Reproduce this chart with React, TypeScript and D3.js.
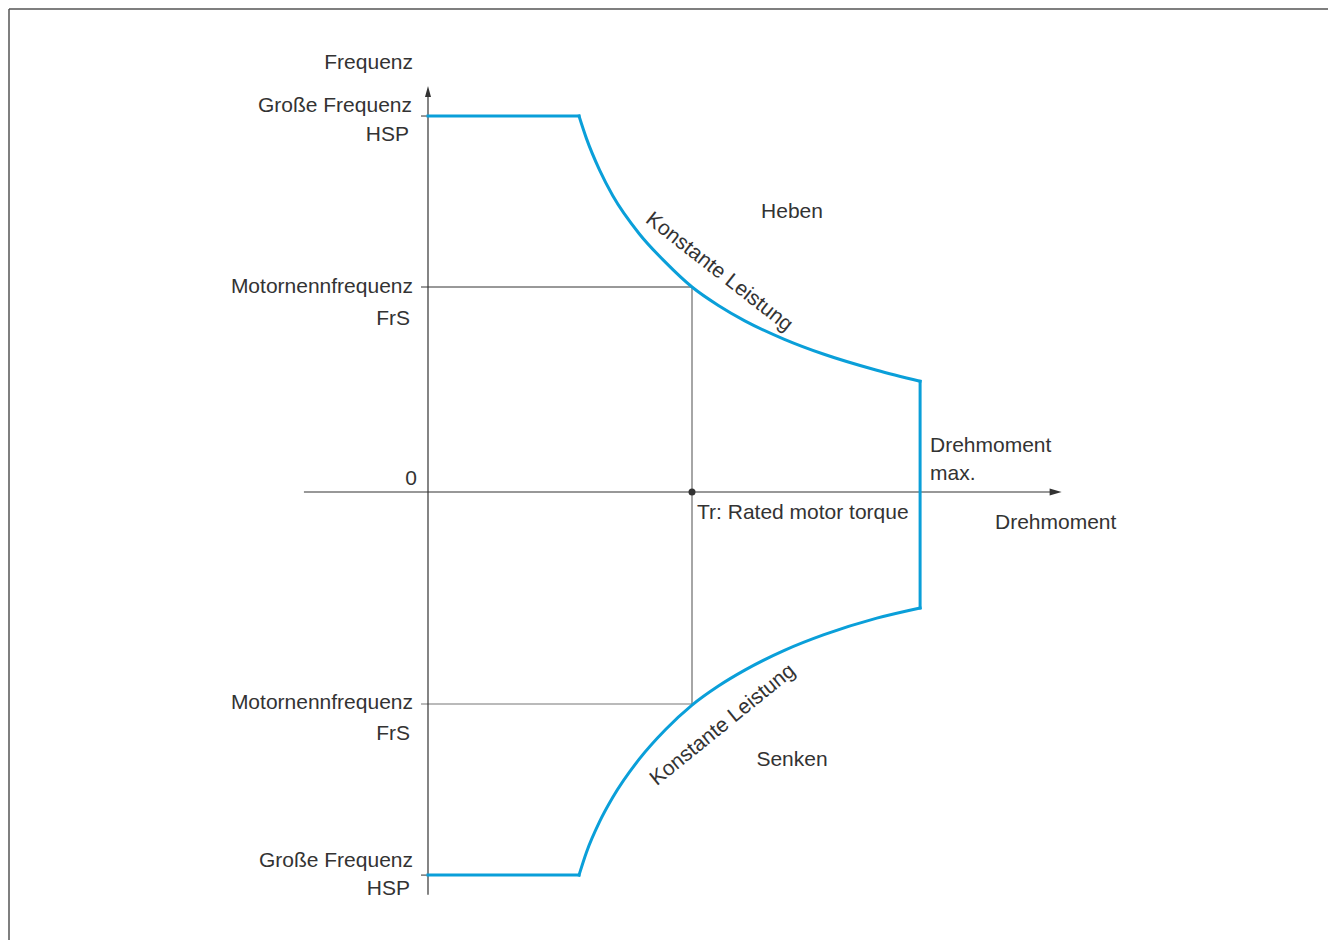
import React from "react";
import * as d3 from "d3";

// values in chart units: torque relative to Tr, frequency relative to FrS
const torqueUpper = [0.572, 0.6, 0.65, 0.7, 0.8, 0.9, 1.0, 1.1, 1.2, 1.35, 1.5, 1.7, 1.864];
const freqUpper = [1.834, 1.725, 1.57, 1.445, 1.26, 1.12, 1.0, 0.91, 0.835, 0.745, 0.672, 0.594, 0.54];
const torqueLower = [0.572, 0.6, 0.65, 0.7, 0.8, 0.9, 1.0, 1.1, 1.2, 1.35, 1.5, 1.7, 1.864];
const freqLower = [-1.807, -1.7, -1.555, -1.44, -1.26, -1.12, -1.005, -0.915, -0.84, -0.747, -0.673, -0.595, -0.547];

const hspUpper = 1.834;
const hspLower = -1.807;
const ratedTorque = 1;
const ratedFreq = [1, -1];

const axisX = [-0.47, 2.4];
const axisY = [-1.9, 1.98];

const W = 1328;
const H = 940;
const BLUE = "#0a9fd9";
const INK = "#333";
const FONT = "Liberation Sans, Arial, Helvetica, sans-serif";

const App = () => {
  const x = d3.scaleLinear().domain([0, 1]).range([428, 692]);
  const y = d3.scaleLinear().domain([-1, 0, 1]).range([704, 492, 287]);

  const line = d3
    .line<[number, number]>()
    .x((d) => x(d[0]))
    .y((d) => y(d[1]))
    .curve(d3.curveMonotoneX);

  const upperPath = line(torqueUpper.map((t, i) => [t, freqUpper[i]]));
  const lowerPath = line(torqueLower.map((t, i) => [t, freqLower[i]]));

  const tMax = torqueUpper[torqueUpper.length - 1];
  const x0 = x(0);
  const y0 = y(0);
  const txt = { fontFamily: FONT, fontSize: 21, fill: INK };

  return (
    <svg width={W} height={H} style={{ position: "absolute", left: 0, top: 0, background: "#fff" }}>
      {/* frame */}
      <line x1={9} y1={9} x2={W} y2={9} stroke="#555" strokeWidth={1.5} />
      <line x1={9} y1={9} x2={9} y2={H} stroke="#555" strokeWidth={1.5} />

      {/* rated lines */}
      <line x1={x0 - 7} x2={x(ratedTorque)} y1={y(ratedFreq[0])} y2={y(ratedFreq[0])} stroke={INK} strokeWidth={1} />
      <line x1={x0 - 7} x2={x(ratedTorque)} y1={y(ratedFreq[1])} y2={y(ratedFreq[1])} stroke="#777" strokeWidth={1.2} />
      <line x1={x(ratedTorque)} x2={x(ratedTorque)} y1={y(ratedFreq[0])} y2={y(ratedFreq[1])} stroke="#888" strokeWidth={1.5} />

      {/* HSP ticks */}
      <line x1={x0 - 7} x2={x0} y1={y(hspUpper)} y2={y(hspUpper)} stroke={INK} strokeWidth={1} />
      <line x1={x0 - 7} x2={x0} y1={y(hspLower)} y2={y(hspLower)} stroke={INK} strokeWidth={1} />

      {/* axes */}
      <line x1={x0} x2={x0} y1={y(axisY[0])} y2={y(axisY[1]) + 8} stroke={INK} strokeWidth={1.2} />
      <polygon
        points={`${x0},${y(axisY[1])} ${x0 - 3},${y(axisY[1]) + 11} ${x0 + 3},${y(axisY[1]) + 11}`}
        fill={INK}
      />
      <line x1={x(axisX[0])} x2={x(axisX[1]) - 8} y1={y0} y2={y0} stroke={INK} strokeWidth={1.2} />
      <polygon
        points={`${x(axisX[1])},${y0} ${x(axisX[1]) - 12},${y0 - 3.5} ${x(axisX[1]) - 12},${y0 + 3.5}`}
        fill={INK}
      />

      {/* limit curve */}
      <g fill="none" stroke={BLUE} strokeWidth={3} strokeLinecap="square" strokeLinejoin="miter">
        <line x1={x0} x2={x(torqueUpper[0])} y1={y(hspUpper)} y2={y(hspUpper)} />
        <path d={upperPath ?? ""} />
        <line x1={x(tMax)} x2={x(tMax)} y1={y(freqUpper[freqUpper.length - 1])} y2={y(freqLower[freqLower.length - 1])} />
        <path d={lowerPath ?? ""} />
        <line x1={x0} x2={x(torqueLower[0])} y1={y(hspLower)} y2={y(hspLower)} />
      </g>

      <circle cx={x(ratedTorque)} cy={y0} r={3.5} fill={INK} />

      {/* labels */}
      <g {...txt}>
        <text x={413} y={69} textAnchor="end">Frequenz</text>
        <text x={412} y={112} textAnchor="end">Große Frequenz</text>
        <text x={409} y={141} textAnchor="end">HSP</text>
        <text x={413} y={293} textAnchor="end">Motornennfrequenz</text>
        <text x={410} y={325} textAnchor="end">FrS</text>
        <text x={417} y={485} textAnchor="end">0</text>
        <text x={413} y={709} textAnchor="end">Motornennfrequenz</text>
        <text x={410} y={740} textAnchor="end">FrS</text>
        <text x={413} y={867} textAnchor="end">Große Frequenz</text>
        <text x={410} y={895} textAnchor="end">HSP</text>

        <text x={792} y={218} textAnchor="middle">Heben</text>
        <text x={792} y={766} textAnchor="middle">Senken</text>
        <text x={930} y={452}>Drehmoment</text>
        <text x={930} y={480}>max.</text>
        <text x={697} y={519}>Tr: Rated motor torque</text>
        <text x={995} y={529}>Drehmoment</text>

        <text transform="translate(720,271) rotate(38)" textAnchor="middle" dy="0.35em">Konstante Leistung</text>
        <text transform="translate(722,724) rotate(-39)" textAnchor="middle" dy="0.35em">Konstante Leistung</text>
      </g>
    </svg>
  );
};

export default App;
